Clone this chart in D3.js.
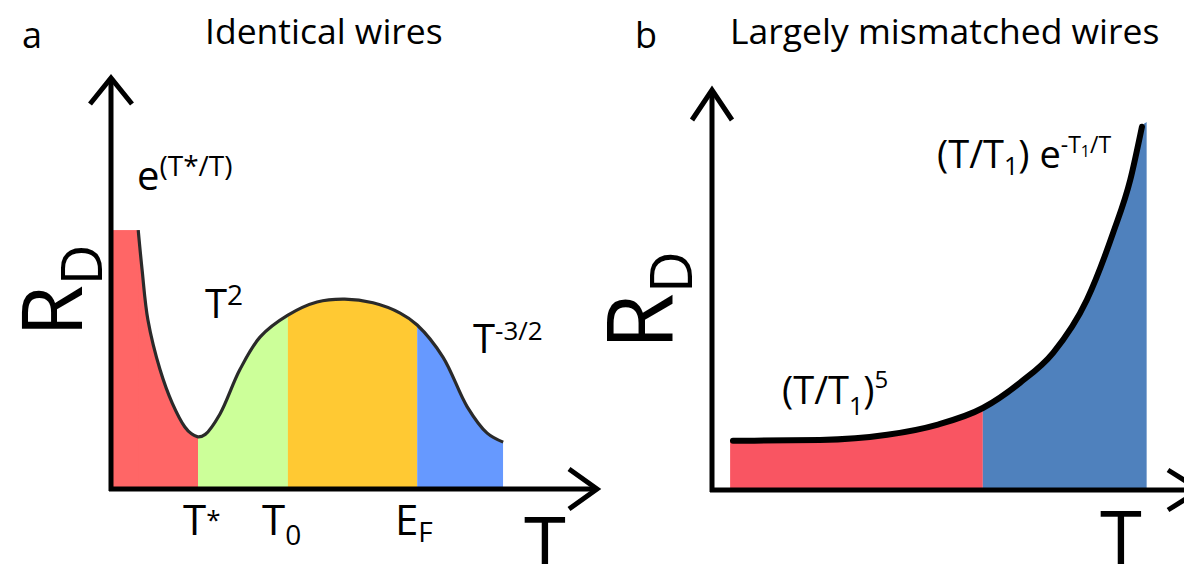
<!DOCTYPE html>
<html>
<head>
<meta charset="utf-8">
<script src="https://cdn.jsdelivr.net/npm/d3@7"></script>
<style>
  body { margin: 0; background: #fff; }
  svg { display: block; font-family: "Open Sans", sans-serif; }
  text { fill: #000; }
</style>
</head>
<body>
<svg id="chart" width="1184" height="564"></svg>
<script>
// panel a: identical wires (arbitrary units, 0..100 on both axes)
const curveA = [
  [5.6, 63.0], [6.4, 53.3], [7.6, 41.1], [10.1, 29.0], [12.6, 20.9], [15.2, 15.1], [16.5, 13.5],
  [17.9, 12.7], [19.4, 13.3], [22.4, 18.2], [26.5, 29.0], [30.7, 37.0], [36.4, 42.3], [42.4, 45.5],
  [48.1, 46.2], [53.9, 45.3], [59.5, 42.8], [63.0, 39.9], [68.3, 32.1], [73.3, 20.0], [77.4, 13.6], [80.7, 11.4]
];
const shelfA = [0.4, 63.0];
const bandEdgesA = [0.4, 17.9, 36.4, 63.0, 80.7];
const bandColorsA = ['#ff6666', '#ccff99', '#ffc933', '#6699ff'];

// panel b: largely mismatched wires
const curveB = [
  [4.3, 12.3], [22.1, 12.5], [35.9, 13.8], [46.1, 16.3], [55.5, 20.5], [63.1, 26.8],
  [69.9, 34.3], [76.8, 47.5], [82.2, 64.3], [85.7, 77.5], [88.1, 90.8]
];
const startB = [3.7, 12.5];
const endB = [89.1, 92.0];
const bandEdgesB = [3.7, 55.5, 89.1];
const bandColorsB = ['#f95562', '#4f81bd'];

const svg = d3.select('#chart');

const xA = d3.scaleLinear().domain([0, 100]).range([111, 597]);
const yA = d3.scaleLinear().domain([0, 100]).range([489, 78]);
const xB = d3.scaleLinear().domain([0, 100]).range([712, 1200]);
const yB = d3.scaleLinear().domain([0, 100]).range([490, 90]);

function drawBands(g, id, x, y, pts, edges, colors, curve) {
  const area = d3.area()
    .x(d => x(d[0]))
    .y0(y(0) - 2)
    .y1(d => y(d[1]))
    .curve(curve);
  colors.forEach((c, i) => {
    g.append('clipPath').attr('id', id + i)
      .append('rect')
      .attr('x', x(edges[i]))
      .attr('y', 0)
      .attr('width', x(edges[i + 1]) - x(edges[i]))
      .attr('height', 564);
    g.append('path')
      .attr('d', area(pts))
      .attr('fill', c)
      .attr('clip-path', 'url(#' + id + i + ')');
  });
}

function drawAxes(g, x, y, xEnd, yTop, headX, headY) {
  const x0 = x.range()[0];
  const y0 = y.range()[0];
  g.append('line')
    .attr('x1', x0).attr('y1', y0 + 2).attr('x2', x0).attr('y2', yTop)
    .attr('stroke', '#000').attr('stroke-width', 5);
  g.append('line')
    .attr('x1', x0 - 2).attr('y1', y0).attr('x2', xEnd).attr('y2', y0)
    .attr('stroke', '#000').attr('stroke-width', 5);
  g.append('path')
    .attr('d', `M${x0 - headY[0]},${yTop + headY[1]}L${x0},${yTop}L${x0 + headY[0]},${yTop + headY[1]}`)
    .attr('fill', 'none').attr('stroke', '#000').attr('stroke-width', 5);
  g.append('path')
    .attr('d', `M${xEnd - headX[0]},${y0 - headX[1]}L${xEnd},${y0}L${xEnd - headX[0]},${y0 + headX[1]}`)
    .attr('fill', 'none').attr('stroke', '#000').attr('stroke-width', 5);
}

function rdLabel(g, bx, by, big, small) {
  const t = g.append('text')
    .attr('transform', `translate(${bx},${by}) rotate(-90)`)
    .style('font-size', big + 'px');
  t.append('tspan').text('R');
  t.append('tspan').attr('dy', 20).style('font-size', small + 'px').text('D');
}

function label(g, x, y, size, parts) {
  const t = g.append('text').attr('x', x).attr('y', y).style('font-size', size + 'px');
  parts.forEach(p => {
    const s = t.append('tspan').text(p[0]);
    if (p[1]) s.style('font-size', p[1] + 'px');
    if (p[2]) s.attr('dy', p[2]);
  });
  return t;
}

// ---- panel a
const gA = svg.append('g');
const smooth = d3.curveCatmullRom.alpha(0.5);
gA.append('rect')
  .attr('x', xA(shelfA[0]))
  .attr('y', yA(shelfA[1]))
  .attr('width', xA(curveA[0][0]) - xA(shelfA[0]) + 1)
  .attr('height', yA(0) - 2 - yA(shelfA[1]))
  .attr('fill', bandColorsA[0]);
drawBands(gA, 'clipA', xA, yA, curveA, bandEdgesA, bandColorsA, smooth);
gA.append('path')
  .attr('d', d3.line().x(d => xA(d[0])).y(d => yA(d[1])).curve(smooth)(curveA))
  .attr('fill', 'none')
  .attr('stroke', '#2a2a2a')
  .attr('stroke-width', 3.2);
drawAxes(gA, xA, yA, 597, 78, [28, 20], [21, 26]);

gA.append('text').attr('x', 22).attr('y', 48).style('font-size', '36px').text('a');
gA.append('text').attr('x', 205).attr('y', 44).style('font-size', '35.5px').text('Identical wires');
rdLabel(gA, 82, 337, 84, 56);
label(gA, 137, 190, 40, [['e'], ['(T*/T)', 28, -14]]);
label(gA, 205, 318, 40, [['T'], ['2', 28, -13]]);
label(gA, 473, 353, 40, [['T'], ['-3/2', 26, -13]]);
label(gA, 183, 535, 42, [['T'], ['*', 26, -6]]);
label(gA, 262, 535, 42, [['T'], ['0', 28, 10]]);
label(gA, 395, 535, 42, [['E'], ['F', 28, 7]]);
gA.append('text').attr('x', 524).attr('y', 572).style('font-size', '76px').text('T');

// ---- panel b
const gB = svg.append('g');
drawBands(gB, 'clipB', xB, yB, [startB].concat(curveB, [endB]), bandEdgesB, bandColorsB, d3.curveMonotoneX);
gB.append('path')
  .attr('d', d3.line().x(d => xB(d[0])).y(d => yB(d[1])).curve(d3.curveMonotoneX)(curveB))
  .attr('fill', 'none')
  .attr('stroke', '#000')
  .attr('stroke-width', 6)
  .attr('stroke-linecap', 'round');
drawAxes(gB, xB, yB, 1200, 90, [32, 20], [20, 30]);

gB.append('text').attr('x', 635).attr('y', 48).style('font-size', '36px').text('b');
gB.append('text').attr('x', 730).attr('y', 44).style('font-size', '35.5px').text('Largely mismatched wires');
rdLabel(gB, 672, 350, 92, 58);
label(gB, 782, 404, 38, [['(T/T'], ['1', 25, 11], [')', 38, -11], ['5', 24, -16]]);
label(gB, 937, 168, 38, [['(T/T'], ['1', 25, 7], [') e', 38, -7], ['-T', 23, -15], ['1', 16, 4], ['/T', 23, -4]]);
gB.append('text').attr('x', 1100).attr('y', 566).style('font-size', '76px').text('T');
</script>
</body>
</html>
